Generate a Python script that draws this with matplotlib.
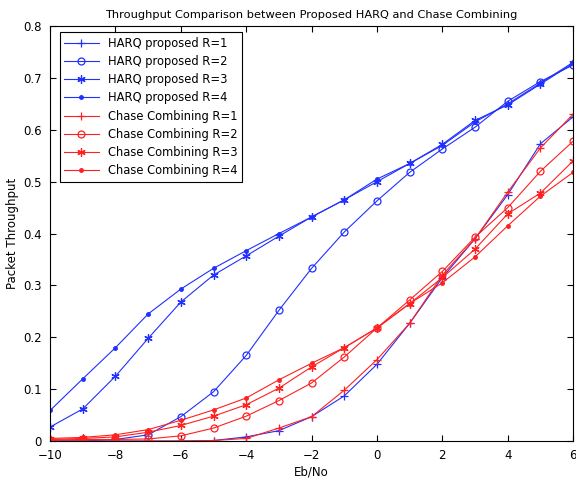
import numpy as np
import matplotlib.pyplot as plt

# Eb/No axis
ebno = list(range(-10, 7))

# HARQ proposed
harq_r1 = [0.0, 0.0, 0.0, 0.0, 0.0, 0.001, 0.008, 0.02, 0.047, 0.087, 0.148, 0.227, 0.315, 0.39, 0.475, 0.573, 0.625]
harq_r2 = [0.0, 0.0, 0.003, 0.012, 0.047, 0.095, 0.165, 0.252, 0.333, 0.403, 0.463, 0.518, 0.563, 0.605, 0.655, 0.693, 0.725]
harq_r3 = [0.027, 0.062, 0.125, 0.198, 0.268, 0.32, 0.357, 0.395, 0.432, 0.465, 0.50, 0.535, 0.572, 0.618, 0.648, 0.688, 0.728]
harq_r4 = [0.059, 0.12, 0.18, 0.245, 0.293, 0.333, 0.367, 0.40, 0.432, 0.465, 0.505, 0.535, 0.57, 0.615, 0.65, 0.69, 0.73]

# Chase combining
cc_r1 = [0.0, 0.0, 0.0, 0.0, 0.0, 0.001, 0.005, 0.025, 0.047, 0.098, 0.157, 0.227, 0.32, 0.39, 0.48, 0.565, 0.63]
cc_r2 = [0.002, 0.003, 0.003, 0.004, 0.01, 0.025, 0.048, 0.078, 0.112, 0.162, 0.218, 0.272, 0.327, 0.393, 0.45, 0.52, 0.578]
cc_r3 = [0.003, 0.005, 0.008, 0.017, 0.03, 0.048, 0.07, 0.102, 0.143, 0.18, 0.218, 0.265, 0.315, 0.37, 0.438, 0.478, 0.54]
cc_r4 = [0.005, 0.007, 0.012, 0.022, 0.04, 0.06, 0.083, 0.118, 0.15, 0.18, 0.218, 0.265, 0.305, 0.355, 0.415, 0.472, 0.518]

plt.rcParams['font.family'] = ['DejaVu Sans']
plt.rcParams['font.size'] = 8

fig = plt.figure(figsize=(5.76, 4.82), dpi=100)
ax = fig.add_axes([0.087, 0.085, 0.908, 0.861])

blue = '#2030ff'
red = '#ff2020'
lw = 0.8
star = (6, 2, 0)

series = [
    (harq_r1, blue, '+', 'none', 6, 'HARQ proposed R=1'),
    (harq_r2, blue, 'o', 'none', 5, 'HARQ proposed R=2'),
    (harq_r3, blue, star, blue, 6, 'HARQ proposed R=3'),
    (harq_r4, blue, 'o', blue, 2.6, 'HARQ proposed R=4'),
    (cc_r1, red, '+', 'none', 6, 'Chase Combining R=1'),
    (cc_r2, red, 'o', 'none', 5, 'Chase Combining R=2'),
    (cc_r3, red, star, red, 6, 'Chase Combining R=3'),
    (cc_r4, red, 'o', red, 2.6, 'Chase Combining R=4'),
]
for ys, c, m, fc, ms, lab in series:
    ax.plot(ebno, ys, color=c, marker=m, markerfacecolor=fc, markeredgecolor=c,
            markersize=ms, linewidth=lw, markeredgewidth=0.9, label=lab)

ax.set_xlim(-10, 6)
ax.set_ylim(0, 0.8)
ax.set_xticks(np.arange(-10, 7, 2))
ax.set_yticks(np.arange(0, 0.81, 0.1))
ax.set_yticklabels(['0', '0.1', '0.2', '0.3', '0.4', '0.5', '0.6', '0.7', '0.8'])
ax.tick_params(direction='in', top=True, right=True, length=4, labelsize=8.5)
ax.tick_params(axis='x', pad=6)
ax.tick_params(axis='y', pad=6)
ax.set_xlabel('Eb/No', fontsize=8.5, labelpad=2)
ax.set_ylabel('Packet Throughput', fontsize=8.5, labelpad=3)
ax.set_title('Throughput Comparison between Proposed HARQ and Chase Combining', fontsize=8.2, pad=6)

leg = ax.legend(loc='upper left', bbox_to_anchor=(0.018, 0.985), fontsize=8.3,
                fancybox=False, edgecolor='black', framealpha=1, borderaxespad=0,
                handlelength=3.0, labelspacing=0.45, borderpad=0.4)
leg.get_frame().set_linewidth(0.8)

fig.savefig('out.png', dpi=100)
